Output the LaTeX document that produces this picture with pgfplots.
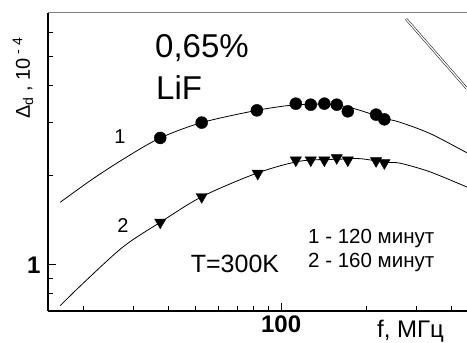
\documentclass[border=0pt]{standalone}
\usepackage{pgfplots}
\pgfplotsset{compat=1.18}
\usepackage{fontspec}
\setmainfont{Liberation Sans}
\begin{document}
\begin{tikzpicture}[x=1pt,y=1pt]
\begin{axis}[
  at={(48pt,32pt)}, anchor=south west,
  scale only axis, width=419pt, height=298pt,
  xmode=log, ymode=log,
  xmin=15, xmax=454, ymin=0.7, ymax=7,
  axis x line*=bottom, axis y line*=left,
  axis line style={-, line width=1.6pt, black},
  tick align=inside,
  major tick length=8pt, minor tick length=5pt,
  tick style={black, line width=1pt},
  xtick={100}, xticklabels={\textbf{100}},
  minor xtick={20,30,40,50,60,70,80,90,200,300,400},
  ytick={1}, yticklabels={\textbf{1}},
  minor ytick={0.8,0.9,2,3,4,5,6},
  tick label style={font=\fontsize{24}{24}\selectfont},
  yticklabel style={xshift=-4pt},
  xticklabel style={yshift=-1pt},
]
% fitted curves
\addplot[black, line width=0.8pt, smooth] coordinates {
 (16.56,1.621) (21.72,1.950) (28.5,2.302) (37.4,2.666) (52.4,3.001)
 (82.1,3.299) (112.1,3.442) (148.9,3.455) (179.7,3.350) (233.1,3.100)
 (263.4,3.008) (336.1,2.758) (454.2,2.375)};
\addplot[black, line width=0.8pt, smooth] coordinates {
 (16.56,0.7293) (20.0,0.8685) (27.7,1.151) (37.4,1.389) (52.4,1.692)
 (81.6,2.026) (116.7,2.228) (161.6,2.262) (190.2,2.271) (233.1,2.210)
 (263.4,2.193) (336.1,2.051) (454.2,1.823)};
% measured points
\addplot[only marks, mark=*, mark size=6pt, black] coordinates {
 (37.4,2.666) (52.4,3.001) (82.1,3.299) (112.7,3.474) (127.3,3.447)
 (142.2,3.474) (157.3,3.447) (172.1,3.274) (216.6,3.192) (231.7,3.078)};
\addplot[only marks, mark=triangle*, mark size=6.5pt, mark options={rotate=180}, black] coordinates {
 (37.4,1.389) (52.4,1.692) (82.7,2.026) (112.7,2.245) (127.3,2.245)
 (142.2,2.245) (157.3,2.285) (172.1,2.245) (216.6,2.233) (231.7,2.198)};
% double line upper right
\addplot[black, line width=0.5pt, double=white, double distance=1.3pt] coordinates {
 (276.5,6.685) (454.2,3.899)};
\end{axis}
\draw[gray, line width=1pt] (48,330) -- (467,330);
\node[rotate=90, font=\fontsize{20}{20}\selectfont] at (23,265) {Δ\textsubscript{d} ,  10\textsuperscript{ - 4}};
\node[anchor=base west, inner sep=0, font=\fontsize{33}{33}\selectfont] at (155,285) {0,65\%};
\node[anchor=base west, inner sep=0, font=\fontsize{33}{33}\selectfont] at (156,243) {LiF};
\node[anchor=base, inner sep=0, font=\fontsize{25}{25}\selectfont] at (235,70) {T=300K};
\node[anchor=west, inner sep=0, font=\fontsize{20.5}{20.5}\selectfont] at (308,105) {1 - 120 минут};
\node[anchor=west, inner sep=0, font=\fontsize{20.5}{20.5}\selectfont] at (308,81) {2 - 160 минут};
\node[font=\fontsize{20}{20}\selectfont] at (120,206) {1};
\node[font=\fontsize{20}{20}\selectfont] at (123,117) {2};
\node[anchor=base west, inner sep=0, font=\fontsize{24}{24}\selectfont] at (377,5) {f, МГц};
\pgfresetboundingbox
\path[use as bounding box] (0,0) rectangle (467,343);
\end{tikzpicture}
\end{document}
